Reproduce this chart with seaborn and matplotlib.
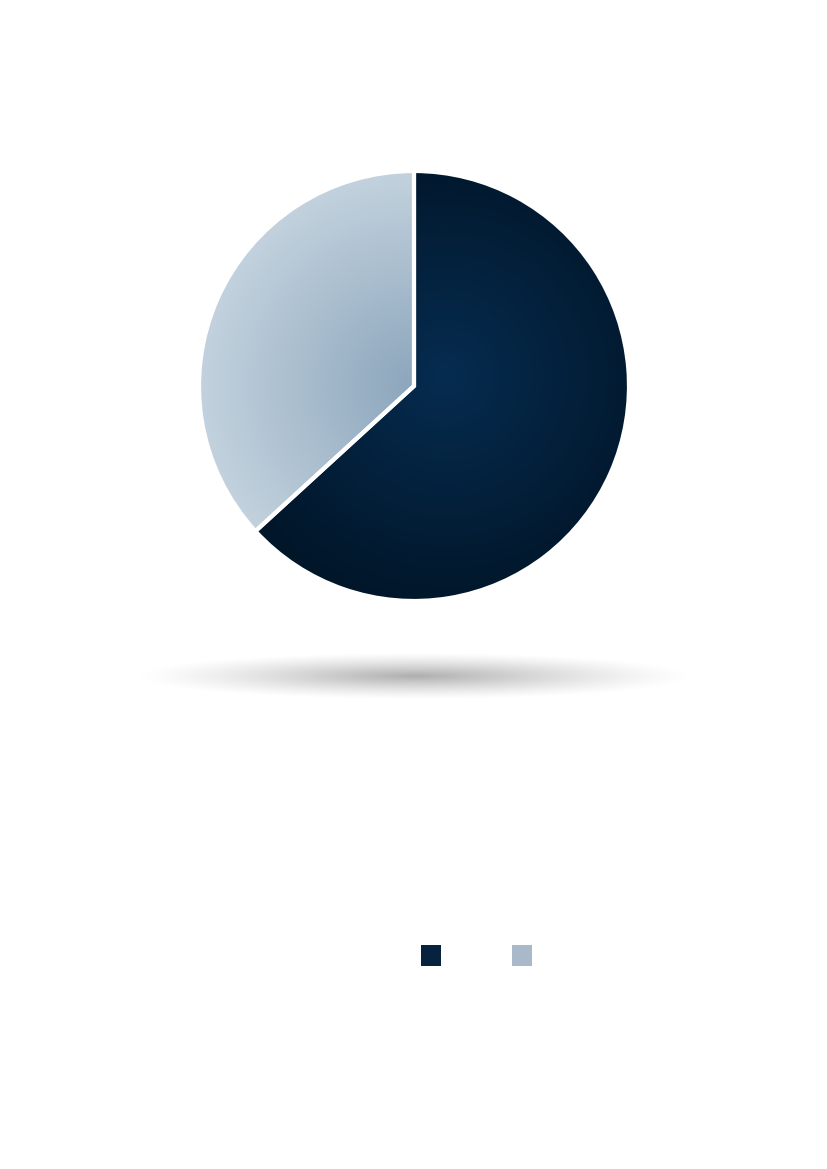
import numpy as np
import matplotlib
matplotlib.use("Agg")
import matplotlib.pyplot as plt
import seaborn as sns
from matplotlib.colors import LinearSegmentedColormap
from matplotlib.patches import Rectangle

# Data
labels = ["A", "B"]
values = [63.2, 36.8]
base_colors = ["#06223f", "#a9b9ca"]
# radial gradient (inner, outer) for each slice
grad_colors = [("#062c50", "#011629"), ("#8ca6bc", "#c8d6e1")]

sns.set_theme(style="white")

W, H = 827, 1169
fig = plt.figure(figsize=(W / 100, H / 100), dpi=100)
fig.patch.set_facecolor("white")

# pie axes
cx, cy, R = 414, 386, 215
pad = 1.05
ax = fig.add_axes([(cx - R * pad) / W, 1 - (cy + R * pad) / H,
                   2 * R * pad / W, 2 * R * pad / H])
wedges, _ = ax.pie(values, colors=base_colors, startangle=90, counterclock=False,
                   wedgeprops=dict(edgecolor="white", linewidth=3.0))
ax.set_xlim(-pad, pad)
ax.set_ylim(-pad, pad)
ax.set_aspect("equal")
ax.axis("off")

# radial gradient fill clipped to each wedge
yy, xx = np.mgrid[-1:1:400j, -1:1:400j]
centers = [(0.15, 0.05), (0.0, 0.0)]
for w, (c_in, c_out), (gx, gy) in zip(wedges, grad_colors, centers):
    r = np.sqrt((xx - gx) ** 2 + (yy - gy) ** 2)
    r = np.clip(r / 1.1, 0, 1)
    cmap = LinearSegmentedColormap.from_list("g", [c_in, c_out])
    im = ax.imshow(r, cmap=cmap, extent=(-1, 1, -1, 1), origin="lower",
                   vmin=0, vmax=1, zorder=w.get_zorder() - 0.5, interpolation="bilinear")
    im.set_clip_path(w)
    w.set_facecolor("none")

# shadow under the pie
sx = fig.add_axes([0, 0, 1, 1])
sx.set_xlim(0, W)
sx.set_ylim(H, 0)
sx.axis("off")
sx.set_zorder(-1)
gy2, gx2 = np.mgrid[-1:1:120j, -1:1:600j]
d = np.sqrt(gx2 ** 2 + gy2 ** 2)
alpha = np.clip(1 - d, 0, 1) ** 1.3 * 0.32
shadow = np.zeros((120, 600, 4))
shadow[..., 3] = alpha
sx.imshow(shadow, extent=(130, 700, 700, 652), interpolation="bilinear", aspect="auto")

# legend squares (no text)
lx = fig.add_axes([0, 0, 1, 1])
lx.set_xlim(0, W)
lx.set_ylim(H, 0)
lx.axis("off")
for i, c in enumerate(base_colors):
    lx.add_patch(Rectangle((421 + i * 91, 945), 20, 21, facecolor=c, edgecolor="none"))

fig.savefig("out.png", dpi=100, facecolor="white")
